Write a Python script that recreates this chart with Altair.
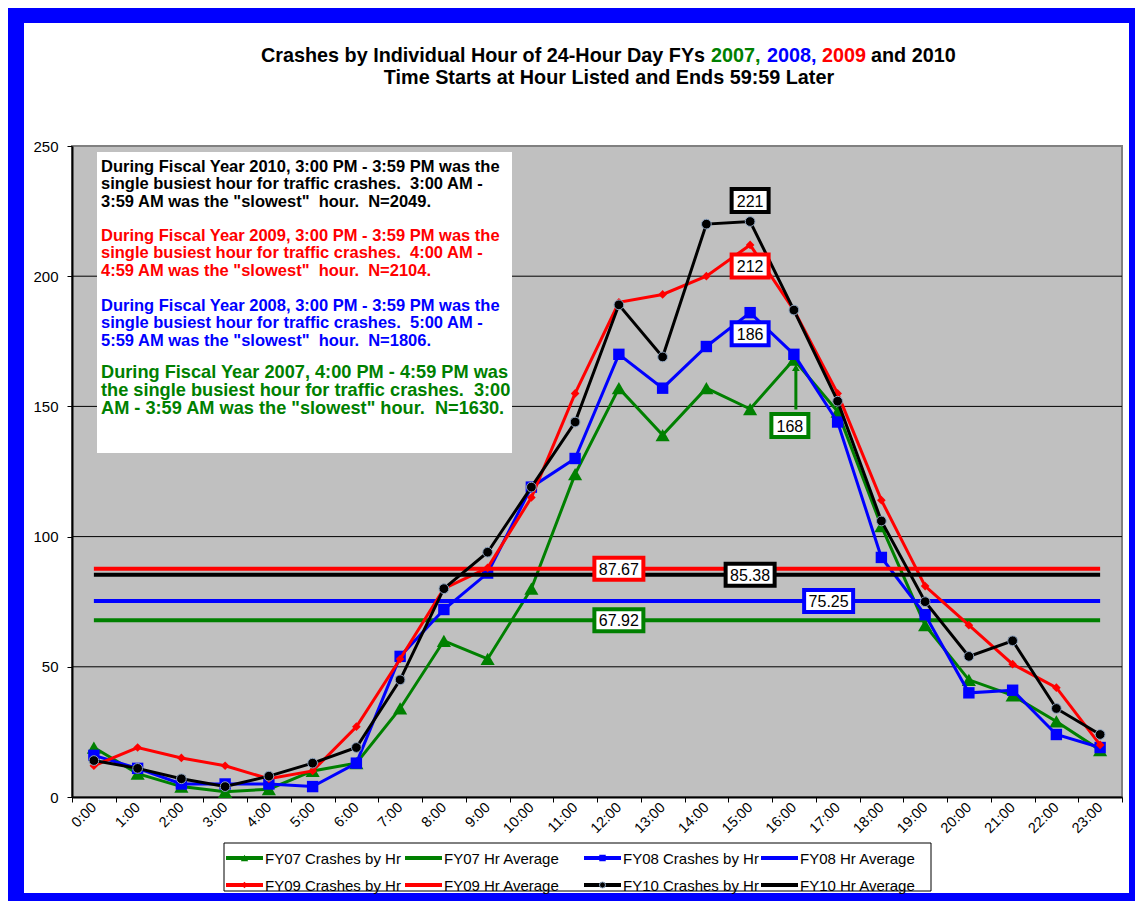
import altair as alt
import pandas as pd

# ---------------- data ----------------
hours = [f"{h}:00" for h in range(24)]
fy07 = [19, 9, 4, 2, 3, 10, 13, 34, 60, 53, 80, 124, 157, 139, 157, 149, 168, 148, 104, 66, 45, 39, 29, 18]
fy08 = [16, 11, 5, 5, 5, 4, 13, 54, 72, 86, 119, 130, 170, 157, 173, 186, 170, 144, 92, 70, 40, 41, 24, 19]
fy09 = [12, 19, 15, 12, 7, 10, 27, 53, 80, 88, 115, 155, 190, 193, 200, 212, 187, 155, 114, 81, 66, 51, 42, 20]
fy10 = [14, 11, 7, 4, 8, 13, 19, 45, 80, 94, 119, 144, 189, 169, 220, 221, 187, 152, 106, 75, 54, 60, 34, 24]
averages = [67.92, 75.25, 87.67, 85.38]
years = ["FY07", "FY08", "FY09", "FY10"]
series_names = ["FY07 Crashes by Hr", "FY07 Hr Average", "FY08 Crashes by Hr", "FY08 Hr Average",
                "FY09 Crashes by Hr", "FY09 Hr Average", "FY10 Crashes by Hr", "FY10 Hr Average"]
y_ticks = [0, 50, 100, 150, 200, 250]
grid_vals = [50, 100, 150, 200]

title_parts = ["Crashes by Individual Hour of 24-Hour Day FYs", "2007,", "2008,", "2009", "and 2010"]
subtitle = "Time Starts at Hour Listed and Ends 59:59 Later"
notes = [
    "During Fiscal Year 2010, 3:00 PM - 3:59 PM was the\nsingle busiest hour for traffic crashes.  3:00 AM -\n3:59 AM was the \"slowest\"  hour.  N=2049.",
    "During Fiscal Year 2009, 3:00 PM - 3:59 PM was the\nsingle busiest hour for traffic crashes.  4:00 AM -\n4:59 AM was the \"slowest\"  hour.  N=2104.",
    "During Fiscal Year 2008, 3:00 PM - 3:59 PM was the\nsingle busiest hour for traffic crashes.  5:00 AM -\n5:59 AM was the \"slowest\"  hour.  N=1806.",
    "During Fiscal Year 2007, 4:00 PM - 4:59 PM was\nthe single busiest hour for traffic crashes.  3:00\nAM - 3:59 AM was the \"slowest\" hour.  N=1630.",
]

# ---------------- styles ----------------
FONT = "Liberation Sans"
GREEN, BLUE, RED, BLACK = "#008000", "#0000FF", "#FF0000", "#000000"
col = {"FY07": GREEN, "FY08": BLUE, "FY09": RED, "FY10": BLACK}
W, H = 1050, 651
PAD = {"left": 64, "top": 138, "right": 13, "bottom": 104}

x_enc = alt.X(
    "hour:N", sort=hours, bandPosition=0.5,
    scale=alt.Scale(type="band", domain=hours, paddingInner=0, paddingOuter=0),
    axis=alt.Axis(title=None, labelAngle=-45, labelAlign="right", labelBaseline="middle",
                  tickBand="extent", tickSize=5, tickColor=BLACK, tickWidth=1,
                  domainColor=BLACK, domainWidth=2, labelFont=FONT, labelFontSize=14.5,
                  labelColor=BLACK, labelPadding=3, grid=False, labelOverlap=False),
)
y_enc = alt.Y(
    "value:Q", scale=alt.Scale(domain=[0, 250], nice=False),
    axis=alt.Axis(title=None, values=y_ticks, grid=False, tickSize=5, tickColor=BLACK,
                  tickWidth=1, domainColor=BLACK, domainWidth=2, labelFont=FONT,
                  labelFontSize=15, labelColor=BLACK, labelPadding=9),
)

one = pd.DataFrame({"k": [0]})


def vrect(x, x2, y, y2, color, stroke=None):
    kw = dict(color=color, opacity=1)
    if stroke:
        kw.update(stroke=stroke, strokeWidth=1)
    return alt.Chart(one).mark_rect(**kw).encode(
        x=alt.value(x), x2=alt.value(x2), y=alt.value(y), y2=alt.value(y2))


layers = []

# blue frame (outside plot area)
L, T, R, B = -PAD["left"], -PAD["top"], W + PAD["right"], H + PAD["bottom"]
layers += [vrect(L, L + 16, T, B, BLUE), vrect(L, R, T, T + 15, BLUE),
           vrect(R - 6, R, T, B, BLUE), vrect(L, R, B - 8, B, BLUE)]

# gridlines
layers.append(alt.Chart(pd.DataFrame({"value": grid_vals})).mark_rule(color=BLACK, strokeWidth=1)
              .encode(y=y_enc))

# note box
layers.append(vrect(25, 440, 6, 307, "white"))
note_tops = [12.5, 81.5, 151.5, 218]
note_sizes = [16.5, 16.5, 16.5, 18.2]
note_lh = [17.7, 17.7, 17.7, 18.2]
note_cols = [BLACK, RED, BLUE, GREEN]
for txt, top, fs, lh, c in zip(notes, note_tops, note_sizes, note_lh, note_cols):
    shown = txt.replace("  ", "\u00a0 ")  # keep the double spaces visible
    layers.append(alt.Chart(pd.DataFrame({"t": [shown]})).mark_text(
        font=FONT, fontSize=fs, fontWeight="bold", color=c, align="left", baseline="top",
        lineBreak="\n", lineHeight=lh).encode(x=alt.value(29), y=alt.value(top), text="t:N"))

# series
shapes = {"FY07": ("triangle-up", 200), "FY08": ("square", 130), "FY09": ("diamond", 75), "FY10": ("circle", 95)}
for yr, vals, avg in zip(years, [fy07, fy08, fy09, fy10], averages):
    df = pd.DataFrame({"hour": hours, "value": vals})
    c = col[yr]
    layers.append(alt.Chart(df).mark_line(color=c, strokeWidth=3).encode(x=x_enc, y=y_enc))
    shp, sz = shapes[yr]
    if yr == "FY10":
        pm = alt.Chart(df).mark_point(shape=shp, size=sz, filled=True, fill=BLACK, stroke="#8EA4C0",
                                      strokeWidth=1, opacity=1)
    else:
        pm = alt.Chart(df).mark_point(shape=shp, size=sz, filled=True, fill=c, opacity=1)
    layers.append(pm.encode(x=x_enc, y=y_enc))
    adf = pd.DataFrame({"hour": [hours[0], hours[-1]], "value": [avg, avg]})
    layers.append(alt.Chart(adf).mark_line(color=c, strokeWidth=4).encode(x=x_enc, y=y_enc))


# label boxes
def box_label(hour, value, text, color, w, h, xo=0, yo=0, fs=16):
    df = pd.DataFrame({"hour": [hour], "value": [value], "t": [text]})
    r = h / w
    path = f"M-1,-{r:.4f}L1,-{r:.4f}L1,{r:.4f}L-1,{r:.4f}Z"
    box = alt.Chart(df).mark_point(shape=path, size=w * w, filled=True, fill="white", stroke=color,
                                   strokeWidth=4, opacity=1, xOffset=xo, yOffset=yo).encode(x=x_enc, y=y_enc)
    txt = alt.Chart(df).mark_text(font=FONT, fontSize=fs, color=BLACK, align="center", baseline="middle",
                                  dx=xo, dy=yo + 1).encode(x=x_enc, y=y_enc, text="t:N")
    return [box, txt]


# arrow for 168
adf = pd.DataFrame({"hour": [hours[16]], "value": [fy07[16]]})
layers.append(alt.Chart(adf).mark_rule(color=GREEN, strokeWidth=3, yOffset=8, y2Offset=50, xOffset=2)
              .encode(x=x_enc, y=y_enc, y2="value:Q"))
layers.append(alt.Chart(adf).mark_point(shape="triangle-up", size=60, filled=True, fill=GREEN, opacity=1,
                                        yOffset=8, xOffset=2).encode(x=x_enc, y=y_enc))

layers += box_label(hours[15], fy10[15], str(fy10[15]), BLACK, 37, 23, yo=-21)
layers += box_label(hours[15], fy09[15], str(fy09[15]), RED, 37, 23, yo=21)
layers += box_label(hours[15], fy08[15], str(fy08[15]), BLUE, 37, 23, yo=21)
layers += box_label(hours[16], fy07[16], str(fy07[16]), GREEN, 37, 23, xo=-4, yo=66)
layers += box_label(hours[12], averages[2], f"{averages[2]:.2f}", RED, 49, 22)
layers += box_label(hours[12], averages[0], f"{averages[0]:.2f}", GREEN, 49, 22)
layers += box_label(hours[15], averages[3], f"{averages[3]:.2f}", BLACK, 49, 22)
layers += box_label(hours[17], averages[1], f"{averages[1]:.2f}", BLUE, 49, 22, xo=-9)

# title
title_x = [189, 639, 695, 750, 799]
title_c = [BLACK, GREEN, BLUE, RED, BLACK]
for t, xx, c in zip(title_parts, title_x, title_c):
    layers.append(alt.Chart(pd.DataFrame({"t": [t]})).mark_text(
        font=FONT, fontSize=19.8, fontWeight="bold", color=c, align="left", baseline="middle")
        .encode(x=alt.value(xx), y=alt.value(-90), text="t:N"))
layers.append(alt.Chart(pd.DataFrame({"t": [subtitle]})).mark_text(
    font=FONT, fontSize=19.8, fontWeight="bold", color=BLACK, align="center", baseline="middle")
    .encode(x=alt.value(537), y=alt.value(-68), text="t:N"))

# legend: framed box, 4 columns x 2 rows
layers.append(vrect(152, 859, 697, 745, "white", stroke=BLACK))
leg_cols_x = [154, 333, 512, 689]
leg_rows_y = [712, 739]
leg_marker = {"FY07": ("triangle-up", 55), "FY08": ("square", 42), "FY09": ("diamond", 40), "FY10": ("circle", 36)}
for i, name in enumerate(series_names):
    x0 = leg_cols_x[i % 4]
    yy = leg_rows_y[i // 4]
    c = col[name[:4]]
    ent = pd.DataFrame({"t": [name]})
    layers.append(alt.Chart(ent).mark_rule(color=c, strokeWidth=4).encode(
        x=alt.value(x0), x2=alt.value(x0 + 37), y=alt.value(yy)))
    if "Crashes" in name:
        shp, sz = leg_marker[name[:4]]
        kw = dict(stroke="#8EA4C0", strokeWidth=1) if name[:4] == "FY10" else {}
        layers.append(alt.Chart(ent).mark_point(shape=shp, size=sz, filled=True, fill=c, opacity=1, **kw)
                      .encode(x=alt.value(x0 + 18.5), y=alt.value(yy)))
    layers.append(alt.Chart(ent).mark_text(font=FONT, fontSize=15, color=BLACK, align="left",
                                           baseline="middle").encode(
        x=alt.value(x0 + 39), y=alt.value(yy + 1), text="t:N"))

chart = alt.layer(*layers).properties(
    width=W, height=H,
    autosize=alt.AutoSizeParams(type="none"),
    padding=PAD, background="white",
).configure_view(fill="#C0C0C0", stroke="#808080", strokeWidth=2)

chart.save("out.html", embed_options={"renderer": "svg", "actions": False})
